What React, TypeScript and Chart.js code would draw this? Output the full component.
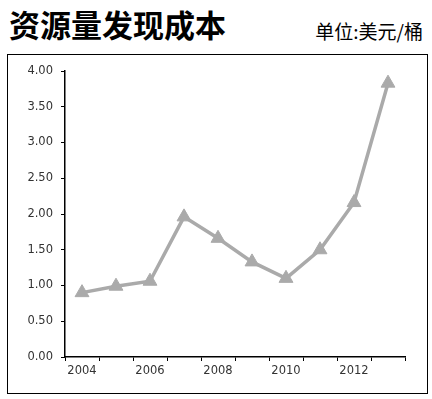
import React, { useEffect, useRef } from "react";
import { Chart, registerables } from "chart.js";

Chart.register(...registerables);

const years = ["2004", "2005", "2006", "2007", "2008", "2009", "2010", "2011", "2012", "2013"];
const costs = [0.9, 0.99, 1.06, 1.96, 1.66, 1.33, 1.1, 1.5, 2.16, 3.83];
const title = "资源量发现成本";
const unit = "单位:美元/桶";

export default function App() {
  const ref = useRef<HTMLCanvasElement | null>(null);

  useEffect(() => {
    document.body.style.margin = "0";
    const canvas = ref.current;
    if (!canvas) return;
    const font = { family: "'DejaVu Sans', sans-serif", size: 11.5 };
    const chart = new Chart(canvas, {
      type: "line",
      data: {
        labels: years,
        datasets: [
          {
            data: costs,
            borderColor: "#aaaaaa",
            backgroundColor: "#aaaaaa",
            borderWidth: 3.5,
            pointStyle: "triangle",
            pointRadius: 8,
            pointBorderWidth: 1,
            pointBackgroundColor: "#aaaaaa",
            pointBorderColor: "#aaaaaa",
            tension: 0,
          },
        ],
      },
      options: {
        animation: false,
        responsive: false,
        maintainAspectRatio: false,
        layout: { padding: { left: 10, right: 27, top: 71, bottom: 0 } },
        plugins: { legend: { display: false }, tooltip: { enabled: false } },
        scales: {
          x: {
            type: "category",
            offset: true,
            grid: {
              offset: true,
              drawOnChartArea: false,
              drawTicks: true,
              tickLength: 4,
              color: "#000",
              lineWidth: 1,
            },
            border: { display: true, color: "#000", width: 1.5 },
            ticks: {
              autoSkip: false,
              maxRotation: 0,
              color: "#333",
              font,
              padding: 3,
              callback: (_v: any, i: number) => (i % 2 === 0 ? years[i] : ""),
            },
            afterFit: (s: any) => {
              s.height = 399 - 357;
            },
          },
          y: {
            min: 0,
            max: 4,
            grid: {
              drawOnChartArea: false,
              drawTicks: true,
              tickLength: 4,
              color: "#000",
              lineWidth: 1,
            },
            border: { display: true, color: "#000", width: 1.5 },
            ticks: {
              stepSize: 0.5,
              color: "#333",
              font,
              padding: 8,
              callback: (v: any) => Number(v).toFixed(2),
            },
            afterFit: (s: any) => {
              s.width = 65 - 10;
            },
          },
        },
      },
    });
    return () => chart.destroy();
  }, []);

  return (
    <div style={{ position: "relative", width: 432, height: 399, background: "#fff", overflow: "hidden" }}>
      <div
        style={{
          position: "absolute",
          left: 9,
          top: 4,
          fontFamily: "'Noto Sans CJK SC', sans-serif",
          fontWeight: 700,
          fontSize: 31,
          lineHeight: "40px",
          color: "#000",
          whiteSpace: "nowrap",
        }}
      >
        {title}
      </div>
      <div
        style={{
          position: "absolute",
          right: 9,
          top: 19,
          fontFamily: "'Noto Sans CJK SC', sans-serif",
          fontSize: 19,
          lineHeight: "24px",
          color: "#000",
          whiteSpace: "nowrap",
        }}
      >
        {unit}
      </div>
      <div
        style={{
          position: "absolute",
          left: 7,
          top: 54,
          width: 421,
          height: 340,
          border: "1.5px solid #000",
          boxSizing: "border-box",
        }}
      />
      <canvas ref={ref} width={432} height={399} style={{ position: "absolute", left: 0, top: 0 }} />
    </div>
  );
}
